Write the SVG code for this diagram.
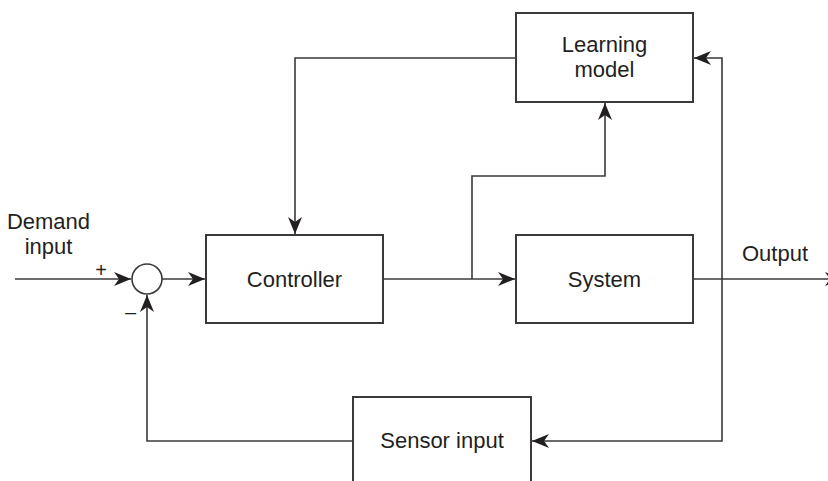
<svg xmlns="http://www.w3.org/2000/svg" width="828" height="481" viewBox="0 0 828 481">
<defs>
<style>
.box{fill:#fff;stroke:#3a3a3a;stroke-width:2}
.wire{fill:none;stroke:#3a3a3a;stroke-width:1.6}
.lbl{font-family:"Liberation Sans",Arial,sans-serif;font-size:22px;fill:#231f20;text-anchor:middle}
.sign{font-family:"Liberation Sans",Arial,sans-serif;font-size:20px;fill:#231f20;text-anchor:middle}
</style>
<marker id="arr" viewBox="-17 -8 18 16" refX="0" refY="0" markerWidth="18" markerHeight="16" markerUnits="userSpaceOnUse" orient="auto">
<path d="M0,0 L-17,-7 L-12,0 L-17,7 Z" fill="#231f20"/>
</marker>
</defs>
<rect width="828" height="481" fill="#fff"/>
<g id="connectors">
<path class="wire" d="M15,279 H131" marker-end="url(#arr)"/>
<path class="wire" d="M162,279 H205" marker-end="url(#arr)"/>
<path class="wire" d="M383,279 H515" marker-end="url(#arr)"/>
<path class="wire" d="M472,279 V176 H605 V103" marker-end="url(#arr)"/>
<path class="wire" d="M516,58 H295 V234" marker-end="url(#arr)"/>
<path class="wire" d="M693,279 H842" marker-end="url(#arr)"/>
<path class="wire" d="M722,279 V58 H694" marker-end="url(#arr)"/>
<path class="wire" d="M722,279 V441 H532" marker-end="url(#arr)"/>
<path class="wire" d="M353,441 H147 V295" marker-end="url(#arr)"/>
</g>
<g id="sum">
<circle cx="147" cy="279" r="15" fill="#fff" stroke="#3a3a3a" stroke-width="1.6"/>
<text class="sign" x="101" y="277">+</text>
<text class="sign" x="130.5" y="319">–</text>
</g>
<g id="demand">
<text class="lbl" x="48.5" y="229">Demand</text>
<text class="lbl" x="48.5" y="254">input</text>
</g>
<g id="controller">
<rect class="box" x="206" y="235" width="177" height="88"/>
<text class="lbl" x="294.5" y="287">Controller</text>
</g>
<g id="system">
<rect class="box" x="516" y="235" width="177" height="88"/>
<text class="lbl" x="604.5" y="287">System</text>
</g>
<g id="learning">
<rect class="box" x="516" y="13" width="177" height="89"/>
<text class="lbl" x="604.5" y="52">Learning</text>
<text class="lbl" x="604.5" y="77">model</text>
</g>
<g id="sensor">
<rect class="box" x="353" y="397" width="178" height="100"/>
<text class="lbl" x="442" y="448">Sensor input</text>
</g>
<g id="output">
<text class="lbl" x="775" y="261">Output</text>
</g>
</svg>
